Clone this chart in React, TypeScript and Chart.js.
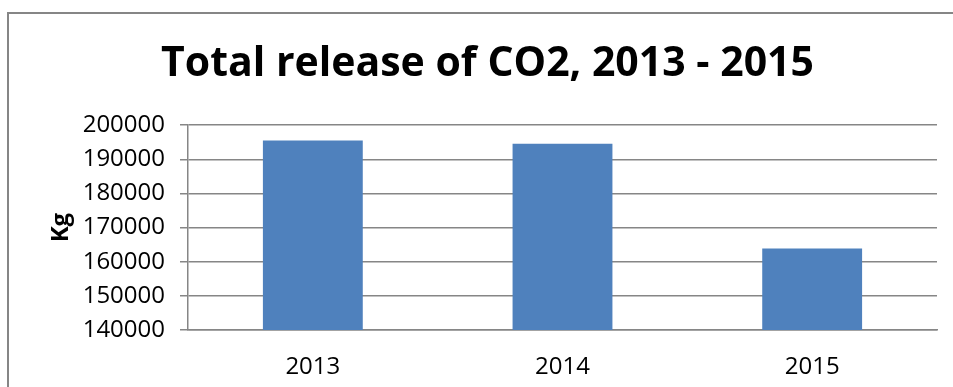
import React, { useEffect, useRef } from "react";
import { Chart, registerables } from "chart.js";

Chart.register(...registerables);

// Annual CO2 release totals, in kilograms
const years = ["2013", "2014", "2015"];
const co2Kg = [195500, 194600, 163900];

const yMin = 140000;
const yMax = 200000;
const yStep = 10000;

const chartTitle = "Total release of CO2, 2013 - 2015";
const yAxisTitle = "Kg";

const BAR_BLUE = "#4F81BD";
const LINE_GREY = "#868686";
const FONT = "'Open Sans', 'DejaVu Sans', sans-serif";

export default function App() {
  const canvasRef = useRef<HTMLCanvasElement | null>(null);

  useEffect(() => {
    const canvas = canvasRef.current;
    if (!canvas) return;
    const chart = new Chart(canvas, {
      type: "bar",
      data: {
        labels: years,
        datasets: [
          {
            label: yAxisTitle,
            data: co2Kg,
            backgroundColor: BAR_BLUE,
            borderWidth: 0,
            barPercentage: 0.4,
            categoryPercentage: 1,
          },
        ],
      },
      options: {
        animation: false,
        responsive: false,
        maintainAspectRatio: false,
        layout: { padding: { left: 38, right: 16, top: 0, bottom: 8 } },
        plugins: {
          legend: { display: false },
          tooltip: { enabled: false },
          title: {
            display: true,
            text: chartTitle,
            color: "#000000",
            font: { family: FONT, size: 41, weight: "bold" },
            padding: { top: 40, bottom: 36 },
          },
        },
        scales: {
          x: {
            afterFit: (scale: any) => {
              scale.height = 49;
            },
            grid: { display: false },
            border: { display: true, color: LINE_GREY, width: 1.5 },
            ticks: {
              color: "#000000",
              font: { family: FONT, size: 24 },
              padding: 15,
            },
          },
          y: {
            min: yMin,
            max: yMax,
            afterFit: (scale: any) => {
              scale.width = 150;
            },
            ticks: {
              stepSize: yStep,
              autoSkip: false,
              color: "#000000",
              font: { family: FONT, size: 24 },
              padding: 15,
              callback: (v: any) => String(v),
            },
            grid: {
              color: LINE_GREY,
              lineWidth: 1.5,
              tickLength: 8,
            },
            border: { display: true, color: LINE_GREY, width: 1.5 },
            title: {
              display: true,
              text: yAxisTitle,
              color: "#000000",
              font: { family: FONT, size: 24, weight: "bold" },
              padding: { top: 9, bottom: 0 },
            },
          },
        },
      },
    });
    return () => chart.destroy();
  }, []);

  return (
    <div
      style={{
        position: "fixed",
        left: 0,
        top: 0,
        width: 953,
        height: 387,
        overflow: "hidden",
        background: "#ffffff",
      }}
    >
      <div
        style={{
          position: "absolute",
          left: 7,
          top: 12,
          width: 1000,
          height: 1000,
          border: `2px solid ${LINE_GREY}`,
          boxSizing: "border-box",
        }}
      />
      <canvas
        ref={canvasRef}
        width={953}
        height={387}
        style={{ position: "absolute", left: 0, top: 0, width: 953, height: 387 }}
      />
    </div>
  );
}
